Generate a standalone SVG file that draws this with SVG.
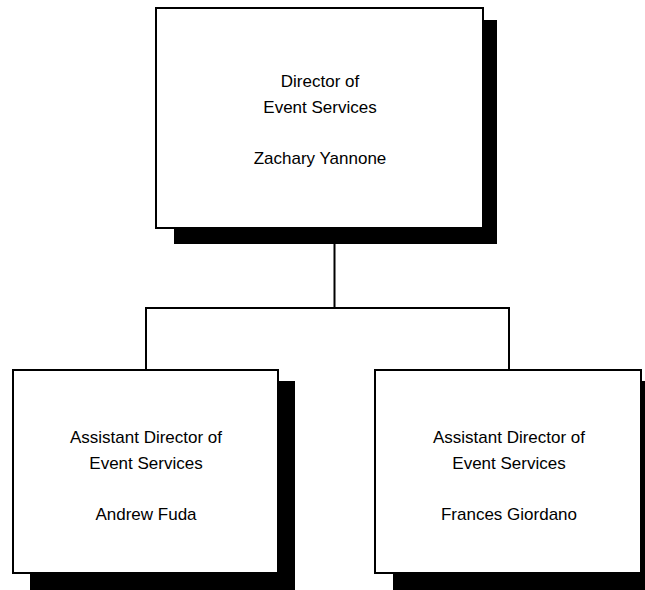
<svg xmlns="http://www.w3.org/2000/svg" width="645" height="590" viewBox="0 0 645 590">
<style>
.shadow{fill:#000}
.box{fill:#fff;stroke:#000;stroke-width:2}
.lbl{font-family:"Liberation Sans",Arial,sans-serif;font-size:17px;fill:#000;text-anchor:middle}
.conn{fill:none;stroke:#000;stroke-width:2}
</style>
<rect width="645" height="590" fill="#fff"/>
<g id="connectors">
<path class="conn" d="M334.5,244 V308 M146,369 V308 H509 V369"/>
</g>
<g id="director">
<rect class="shadow" x="174" y="20" width="323" height="224"/>
<rect class="box" x="156" y="8" width="327" height="220"/>
<text class="lbl" x="320" y="87">Director of</text>
<text class="lbl" x="320" y="113">Event Services</text>
<text class="lbl" x="320" y="164">Zachary Yannone</text>
</g>
<g id="assistant1">
<rect class="shadow" x="30" y="381" width="265" height="209"/>
<rect class="box" x="13" y="370" width="265" height="203"/>
<text class="lbl" x="146" y="443">Assistant Director of</text>
<text class="lbl" x="146" y="469">Event Services</text>
<text class="lbl" x="146" y="520">Andrew Fuda</text>
</g>
<g id="assistant2">
<rect class="shadow" x="393" y="381" width="252" height="209"/>
<rect class="box" x="375" y="370" width="266" height="203"/>
<text class="lbl" x="509" y="443">Assistant Director of</text>
<text class="lbl" x="509" y="469">Event Services</text>
<text class="lbl" x="509" y="520">Frances Giordano</text>
</g>
</svg>
